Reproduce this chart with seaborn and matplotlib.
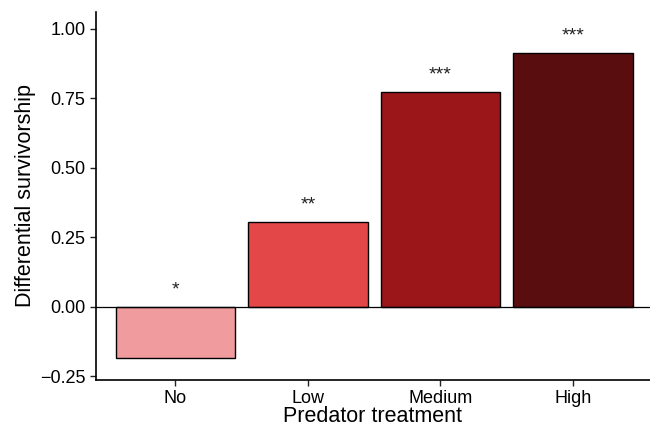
import matplotlib
matplotlib.use("Agg")
import matplotlib.pyplot as plt
import seaborn as sns
import pandas as pd

# Survivorship differences by predator treatment
treatments = ["No", "Low", "Medium", "High"]
survivorship = [-0.183, 0.306, 0.773, 0.914]
significance = ["*", "**", "***", "***"]
bar_colors = ["#F09C9E", "#E44747", "#9B1619", "#5A0D0F"]
y_ticks = [-0.25, 0.00, 0.25, 0.50, 0.75, 1.00]

df = pd.DataFrame({"treatment": treatments, "survivorship": survivorship})

sns.set_theme(style="ticks")
plt.rcParams["font.family"] = ["Liberation Sans", "DejaVu Sans"]

fig = plt.figure(figsize=(6.5, 4.29), dpi=100)
ax = fig.add_axes([0.1477, 0.1142, 0.852, 0.858])

sns.barplot(data=df, x="treatment", y="survivorship", hue="treatment",
            order=treatments, hue_order=treatments, palette=bar_colors,
            saturation=1, width=0.9, edgecolor="black", linewidth=1.0,
            legend=False, errorbar=None, ax=ax, zorder=2)

ax.axhline(0, color="black", linewidth=0.9, zorder=3)

for i, (v, s) in enumerate(zip(survivorship, significance)):
    ax.text(i, max(v, 0) + 0.06, s, ha="center", va="center",
            fontsize=14, color="#222222")

ax.set_xlim(-0.6, 3.58)
ax.set_ylim(-0.263, 1.061)
ax.set_yticks(y_ticks)
ax.set_yticklabels(["\u22120.25", "0.00", "0.25", "0.50", "0.75", "1.00"])

ax.set_xlabel("Predator treatment", fontsize=15.5, color="black", labelpad=-1)
ax.set_ylabel("Differential survivorship", fontsize=15.5, color="black", labelpad=3)
ax.tick_params(axis="both", labelsize=13, colors="#222222", length=4,
               width=1.0, labelcolor="black")

for side in ["top", "right"]:
    ax.spines[side].set_visible(False)
for side in ["left", "bottom"]:
    ax.spines[side].set_linewidth(1.2)
    ax.spines[side].set_color("black")

fig.savefig("out.png", dpi=100)
